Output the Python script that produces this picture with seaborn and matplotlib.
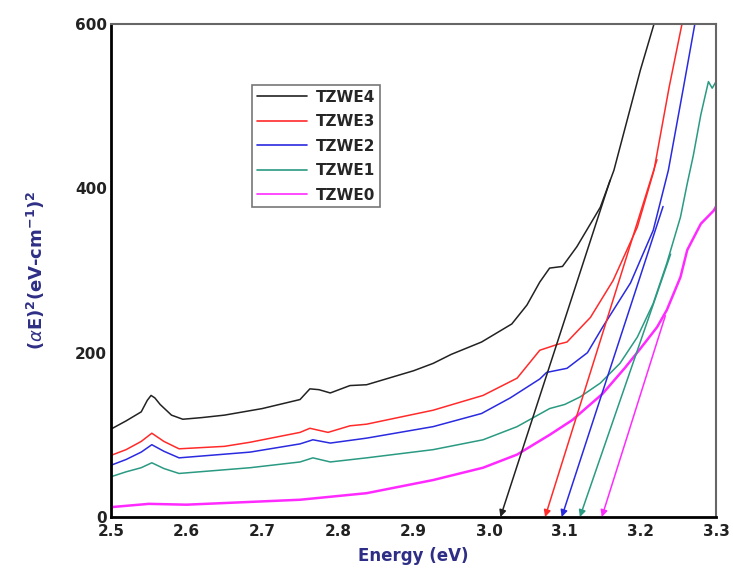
import seaborn as sns
import matplotlib.pyplot as plt
import pandas as pd

# absorption edge data: energy (eV) and (alpha E)^2
e4 = [2.50, 2.52, 2.54, 2.548, 2.553, 2.558, 2.565, 2.58, 2.595, 2.62, 2.65, 2.70, 2.75, 2.763,
      2.775, 2.79, 2.816, 2.838, 2.90, 2.926, 2.95, 2.99, 3.03, 3.05, 3.067, 3.08, 3.097,
      3.116, 3.147, 3.165, 3.20, 3.218, 3.225]
y4 = [107, 117, 128, 142, 148, 145, 137, 124, 119, 121, 124, 132, 143, 156,
      155, 151, 160, 161, 178, 187, 198, 213, 235, 258, 286, 303, 305,
      329, 377, 422, 544, 600, 630]

e3 = [2.50, 2.52, 2.54, 2.554, 2.57, 2.59, 2.65, 2.684, 2.75, 2.763, 2.787, 2.816, 2.838,
      2.926, 2.992, 3.037, 3.067, 3.09, 3.103, 3.134, 3.164, 3.196, 3.218, 3.238, 3.255, 3.26]
y3 = [75, 82, 92, 102, 92, 83, 86, 91, 103, 108, 103, 111, 113,
      130, 148, 169, 203, 210, 213, 243, 288, 353, 422, 523, 600, 630]

e2 = [2.50, 2.52, 2.54, 2.554, 2.57, 2.59, 2.684, 2.75, 2.767, 2.79, 2.838, 2.926, 2.99,
      3.028, 3.067, 3.076, 3.103, 3.13, 3.15, 3.187, 3.217, 3.237, 3.257, 3.272, 3.277]
y2 = [63, 70, 79, 88, 80, 72, 79, 89, 94, 90, 96, 110, 126,
      145, 168, 176, 181, 200, 231, 285, 349, 422, 523, 600, 630]

e1 = [2.50, 2.52, 2.54, 2.554, 2.57, 2.59, 2.684, 2.75, 2.767, 2.79, 2.838, 2.926, 2.992,
      3.037, 3.08, 3.10, 3.12, 3.147, 3.173, 3.196, 3.217, 3.235, 3.253, 3.262, 3.27,
      3.28, 3.29, 3.295, 3.30]
y1 = [49, 55, 60, 66, 59, 53, 60, 67, 72, 67, 72, 82, 94,
      110, 132, 137, 146, 163, 187, 219, 260, 309, 365, 406, 440,
      490, 530, 522, 530]

e0 = [2.50, 2.55, 2.60, 2.65, 2.70, 2.75, 2.838, 2.926, 2.992, 3.037, 3.08, 3.11, 3.15,
      3.18, 3.20, 3.222, 3.235, 3.253, 3.262, 3.28, 3.297, 3.30]
y0 = [12, 16, 15, 17, 19, 21, 29, 45, 60, 76, 100, 118, 150,
      182, 205, 231, 252, 292, 325, 357, 373, 378]

samples = ["TZWE4", "TZWE3", "TZWE2", "TZWE1", "TZWE0"]
colors = ["#222222", "#ff2a2a", "#2a2ae0", "#2a9a82", "#ff2aff"]

# linear extrapolation lines: band gap (y=0) and upper end point
gap_e = [3.015, 3.074, 3.096, 3.120, 3.149]
top_e = [3.160, 3.222, 3.230, 3.240, 3.233]
top_y = [410, 435, 378, 320, 245]

frames = []
for name, e, y in zip(samples, [e4, e3, e2, e1, e0], [y4, y3, y2, y1, y0]):
    frames.append(pd.DataFrame({"Energy": e, "val": y, "sample": name}))
df = pd.concat(frames, ignore_index=True)

sns.set_style("white")
fig = plt.figure(figsize=(7.33, 5.74), dpi=100)
ax = fig.add_axes([0.1514, 0.0993, 0.8254, 0.8587])

sns.lineplot(data=df, x="Energy", y="val", hue="sample", hue_order=samples,
             palette=colors, sort=False, linewidth=1.1, ax=ax)
# magenta curve looks thicker
ax.get_lines()[4].set_linewidth(1.8)

for ge, te, ty, c in zip(gap_e, top_e, top_y, colors):
    ax.annotate("", xy=(ge, 0), xytext=(te, ty),
                arrowprops=dict(arrowstyle="-|>", color=c, lw=1.1,
                                mutation_scale=10, shrinkA=0, shrinkB=0))

ax.set_xlim(2.5, 3.3)
ax.set_ylim(0, 600)
ax.set_xticks([2.5, 2.6, 2.7, 2.8, 2.9, 3.0, 3.1, 3.2, 3.3])
ax.set_xticklabels(["2.5", "2.6", "2.7", "2.8", "2.9", "3.0", "3.1", "3.2", "3.3"])
ax.set_yticks([0, 200, 400, 600])
ax.tick_params(length=0, labelsize=11)
ax.tick_params(axis="x", pad=5)
ax.tick_params(axis="y", pad=3)
for lab in ax.get_xticklabels() + ax.get_yticklabels():
    lab.set_fontweight("bold")
    lab.set_color("#222222")

for side in ["left", "bottom"]:
    ax.spines[side].set_color("black")
    ax.spines[side].set_linewidth(2.0)
for side in ["top", "right"]:
    ax.spines[side].set_color("#666666")
    ax.spines[side].set_linewidth(1.5)

navy = "#2e2e86"
ax.set_xlabel("Energy (eV)", fontsize=12, fontweight="bold", color=navy, labelpad=6)
ax.set_ylabel(r"($\alpha$E)$^{\mathbf{2}}$(eV-cm$^{\mathbf{-1}}$)$^{\mathbf{2}}$",
              fontsize=13, fontweight="bold", color=navy, labelpad=20)

leg = ax.legend(loc="upper left", bbox_to_anchor=(0.233, 0.876), borderaxespad=0,
                frameon=True, fancybox=False, edgecolor="#555555", handlelength=3.3,
                handletextpad=0.6, borderpad=0.3, labelspacing=0.62,
                prop={"weight": "bold", "size": 11})
leg.get_frame().set_linewidth(1.2)
for h in leg.get_lines():
    h.set_linewidth(1.2)

plt.savefig("out.png", dpi=100)
